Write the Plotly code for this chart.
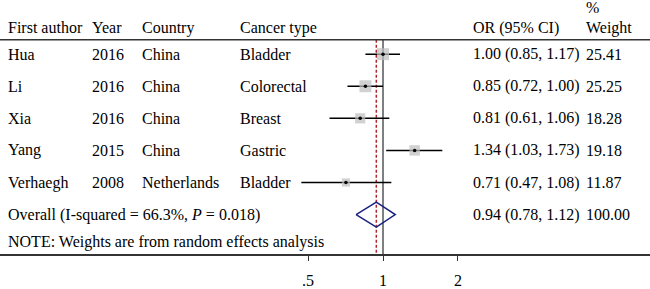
import math
import plotly.graph_objects as go

# ---- data ----
authors = ["Hua", "Li", "Xia", "Yang", "Verhaegh"]
years = ["2016", "2016", "2016", "2015", "2008"]
countries = ["China", "China", "China", "China", "Netherlands"]
cancers = ["Bladder", "Colorectal", "Breast", "Gastric", "Bladder"]
or_est = [1.00, 0.85, 0.81, 1.34, 0.71]
ci_low = [0.85, 0.72, 0.61, 1.03, 0.47]
ci_high = [1.17, 1.00, 1.06, 1.73, 1.08]
weights = [25.41, 25.25, 18.28, 19.18, 11.87]
overall_est = 0.94
overall_low = 0.78
overall_high = 1.12
overall_weight = 100.00
overall_label = "Overall (I-squared = 66.3%, <i>P</i> = 0.018)"
note_label = "NOTE: Weights are from random effects analysis"
headers = ["First author", "Year", "Country", "Cancer type", "OR (95% CI)"]
tick_vals = [0.5, 1, 2]
tick_text = [".5", "1", "2"]

# ---- layout helpers ----
W, H = 650, 289
MB = 31
ROW0, ROWSTEP = 55.0, 32.6
plot_h = H - MB


def ypx(p):
    return (p - ROW0) / ROWSTEP


y_top = ypx(0)
y_bot = ypx(plot_h)
lg = 1.0 / 249.1  # log10 units per pixel
x_left = -383 * lg
x_right = (W - 383) * lg

FONT = "Liberation Serif, Times New Roman, serif"
rows = list(range(len(authors)))
overall_row = len(authors)
header_y = ypx(28)
pct_y = ypx(8)
hline_y = ypx(40.5)
note_y = ypx(246)

fig = go.Figure()

# null line and overall dashed line
fig.add_trace(go.Scatter(x=[1, 1], y=[hline_y, y_bot], mode="lines",
                         line=dict(color="black", width=1), hoverinfo="skip"))
fig.add_trace(go.Scatter(x=[overall_est, overall_est], y=[hline_y, y_bot], mode="lines",
                         line=dict(color="#b0272e", width=1.5, dash="3px,2px"), hoverinfo="skip"))

# CI lines
cx, cy = [], []
for i in rows:
    cx += [ci_low[i], ci_high[i], None]
    cy += [i, i, None]
fig.add_trace(go.Scatter(x=cx, y=cy, mode="lines", line=dict(color="black", width=1.5),
                         hoverinfo="skip"))

# weight boxes
sizes = [12 * math.sqrt(w / max(weights)) for w in weights]
fig.add_trace(go.Scatter(x=or_est, y=rows, mode="markers",
                         marker=dict(symbol="square", size=sizes, color="#bdbdbd",
                                     line=dict(width=0)), hoverinfo="skip"))
fig.add_trace(go.Scatter(x=or_est, y=rows, mode="markers",
                         marker=dict(symbol="circle", size=3.5, color="black"), hoverinfo="skip"))

# diamond
dh = 12.7 / ROWSTEP
fig.add_trace(go.Scatter(
    x=[overall_low, overall_est, overall_high, overall_est, overall_low],
    y=[overall_row, overall_row - dh, overall_row, overall_row + dh, overall_row],
    mode="lines", line=dict(color="#1a237e", width=1.5), hoverinfo="skip"))

# header rule
fig.add_shape(type="line", xref="paper", yref="y", x0=0, x1=1, y0=hline_y, y1=hline_y,
              line=dict(color="#333333", width=1.5))

col_px = [6, 90, 140, 237.5, 470.5, 584]


def txt(xp, y, s):
    fig.add_annotation(x=xp / W, xref="paper", y=y, yref="y", text=s, showarrow=False,
                       xanchor="left", yanchor="middle", font=dict(family=FONT, size=16, color="black"))


for j, h in enumerate(headers):
    txt(col_px[j], header_y, h)
txt(col_px[5], pct_y, "%")
txt(col_px[5], header_y, "Weight")

for i in rows:
    txt(col_px[0], i, authors[i])
    txt(col_px[1], i, years[i])
    txt(col_px[2], i, countries[i])
    txt(col_px[3], i, cancers[i])
    txt(col_px[4], i, f"{or_est[i]:.2f} ({ci_low[i]:.2f}, {ci_high[i]:.2f})")
    txt(col_px[5], i, f"{weights[i]:.2f}")

txt(col_px[0], overall_row, overall_label)
txt(col_px[4], overall_row, f"{overall_est:.2f} ({overall_low:.2f}, {overall_high:.2f})")
txt(col_px[5], overall_row, f"{overall_weight:.2f}")
txt(col_px[0], note_y, note_label)

fig.update_layout(
    width=W, height=H, margin=dict(l=0, r=0, t=0, b=MB),
    paper_bgcolor="white", plot_bgcolor="white", showlegend=False,
    xaxis=dict(type="log", range=[x_left, x_right], tickvals=tick_vals, ticktext=tick_text,
               showgrid=False, zeroline=False, showline=True, linecolor="#333333", linewidth=1.5,
               ticks="outside", ticklen=5, tickcolor="#333333", tickwidth=1,
               tickfont=dict(family=FONT, size=16, color="black"), ticklabelstandoff=6),
    yaxis=dict(range=[y_bot, y_top], visible=False, showgrid=False, zeroline=False),
)

fig.write_html("out.html", config={"displayModeBar": False},
               post_script="document.body.style.margin='0';document.body.style.overflow='hidden';")
